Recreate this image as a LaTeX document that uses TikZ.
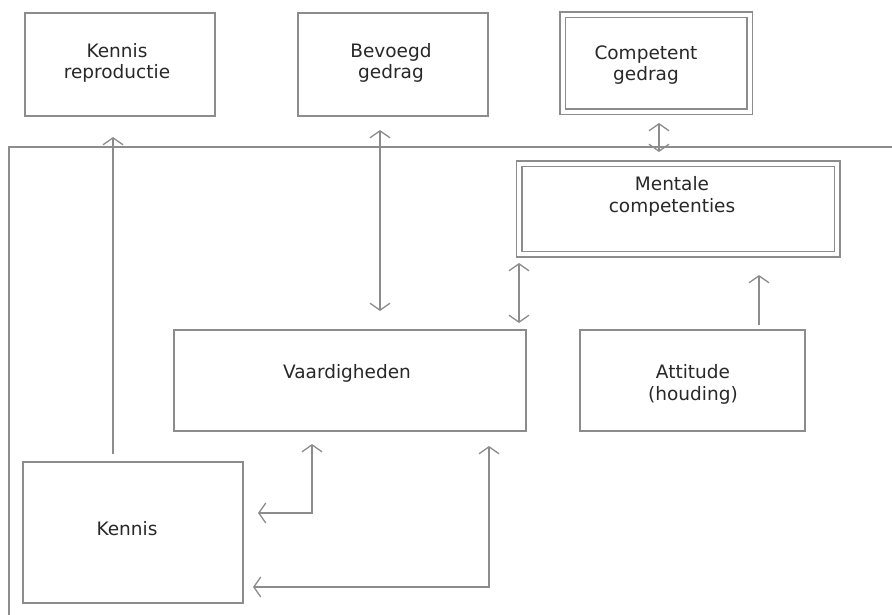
\documentclass[tikz,border=0pt]{standalone}
\usepackage{fontspec}
\setmainfont{DejaVu Sans}
\usetikzlibrary{arrows.meta}
\definecolor{linegray}{RGB}{140,140,140}
\definecolor{textgray}{RGB}{40,40,40}
\tikzset{mybarb/.tip={Straight Barb[length=7pt,width=20pt,line width=1.3pt]}}
\begin{document}
\begin{tikzpicture}[x=1pt,y=-1pt,
  box/.style={draw=linegray, line width=1.5pt, rectangle, inner sep=0pt},
  dbox/.style={draw=linegray, line width=1.5pt, double, double distance=4pt, rectangle, inner sep=0pt},
  lbl/.style={text=textgray, align=center, inner sep=0pt, font=\fontsize{18.5}{21.5}\selectfont, anchor=base},
  conn/.style={draw=linegray, line width=1.5pt}
]
\useasboundingbox (0,0) rectangle (892,615);
\fill[white] (0,0) rectangle (892,615);

% boxes
\node[box, minimum width=190pt, minimum height=103pt] (kr) at (120,64.5) {};
\node[box, minimum width=190pt, minimum height=103pt] (bg) at (393,64.5) {};
\node[dbox, minimum width=187pt, minimum height=97pt] (cg) at (656,63.5) {};
\node[dbox, minimum width=318pt, minimum height=90pt] (mc) at (678,209) {};
\node[box, minimum width=352pt, minimum height=101pt] (vd) at (350,380.5) {};
\node[box, minimum width=225pt, minimum height=101pt] (at) at (692.5,380.5) {};
\node[box, minimum width=220pt, minimum height=141pt] (kn) at (133,532.5) {};

% labels (base = baseline of last line)
\node[lbl] (krt) at (117,79) {Kennis\\reproductie};
\node[lbl] (bgt) at (391,79) {Bevoegd\\gedrag};
\node[lbl] (cgt) at (646,81) {Competent\\gedrag};
\node[lbl] (mct) at (672,212) {Mentale\\competenties};
\node[lbl] (vdt) at (347,378) {Vaardigheden};
\node[lbl] (att) at (693,400) {Attitude\\(houding)};
\node[lbl] (knt) at (127,535) {Kennis};

% frame
\coordinate (fb) at (9,615);
\coordinate (fc) at (9,147);
\coordinate (fr) at (892,147);
\draw[conn] (fb) -- (fc) -- (fr);

% connector end points
\coordinate (a1s) at (113,454);
\coordinate (a1e) at (113,137);
\coordinate (a2s) at (380,130);
\coordinate (a2e) at (380,311);
\coordinate (a3s) at (659,123);
\coordinate (a3e) at (659,152);
\coordinate (a4s) at (519,263);
\coordinate (a4e) at (519,323);
\coordinate (a5s) at (759,325);
\coordinate (a5e) at (759,275);
\coordinate (a6s) at (258,513);
\coordinate (a6c) at (312,513);
\coordinate (a6e) at (312,444);
\coordinate (a7s) at (253,587);
\coordinate (a7c) at (489,587);
\coordinate (a7e) at (489,446);

% connectors
\draw[conn, -{mybarb}] (a1s) -- (a1e);
\draw[conn, {mybarb}-{mybarb}] (a2s) -- (a2e);
\draw[conn, {mybarb}-{mybarb}] (a3s) -- (a3e);
\draw[conn, {mybarb}-{mybarb}] (a4s) -- (a4e);
\draw[conn, -{mybarb}] (a5s) -- (a5e);
\draw[conn, {mybarb}-{mybarb}] (a6s) -- (a6c) -- (a6e);
\draw[conn, {mybarb}-{mybarb}] (a7s) -- (a7c) -- (a7e);
\end{tikzpicture}
\end{document}
